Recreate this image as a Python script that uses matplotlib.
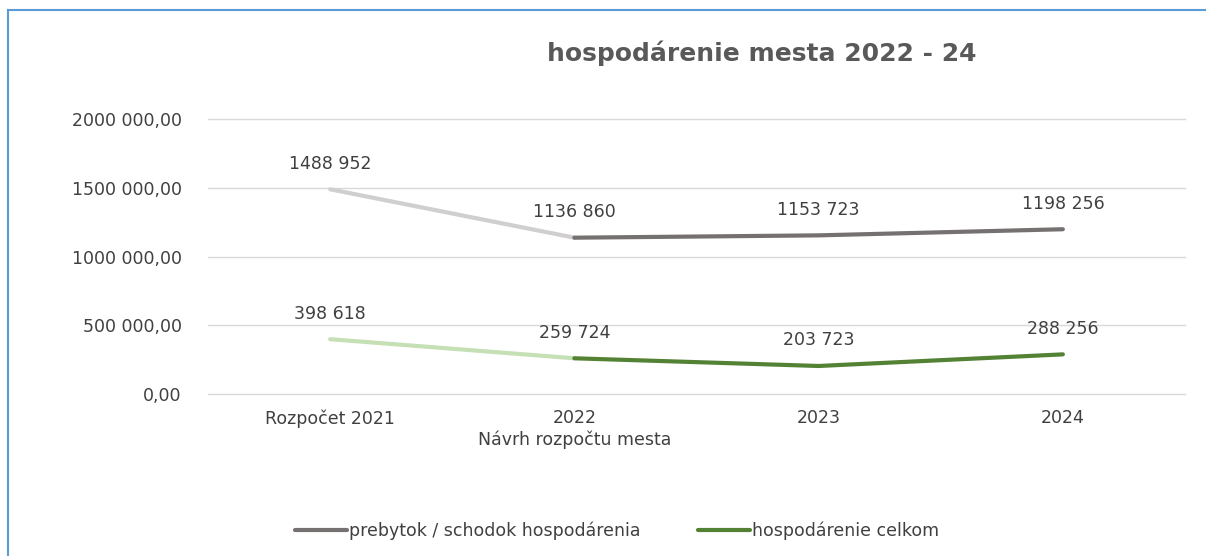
import matplotlib.pyplot as plt
from matplotlib.patches import Rectangle
from matplotlib.lines import Line2D
from matplotlib.ticker import FuncFormatter

plt.rcParams['font.family'] = ['DejaVu Sans']

categories = ['Rozpočet 2021', '2022\nNávrh rozpočtu mesta', '2023', '2024']
prebytok = [1488952, 1136860, 1153723, 1198256]
celkom = [398618, 259724, 203723, 288256]
label_names = ['prebytok / schodok hospodárenia', 'hospodárenie celkom']

gray_dark, gray_light = '#767171', '#d0cece'
green_dark, green_light = '#548235', '#c5e0b4'
text_col = '#404040'


def fmt_num(v):
    v = int(round(v))
    if v < 1000:
        return str(v)
    return f'{v // 1000} {v % 1000:03d}'


def fmt_axis(v, pos):
    return fmt_num(v) + ',00'


fig = plt.figure(figsize=(12.06, 5.56), dpi=100)
ax = fig.add_axes([208/1206, 1 - 394/556, 977/1206, 275/556])

x = list(range(len(categories)))
for vals, dark, light in [(prebytok, gray_dark, gray_light), (celkom, green_dark, green_light)]:
    ax.plot(x[:2], vals[:2], color=light, lw=3, solid_capstyle='round', zorder=3)
    ax.plot(x[1:], vals[1:], color=dark, lw=3, solid_capstyle='round', zorder=4)
    for xi, v in zip(x, vals):
        ax.annotate(fmt_num(v), (xi, v), xytext=(0, 12),
                    textcoords='offset points', ha='center', va='bottom',
                    fontsize=12.5, color=text_col)

ax.set_xlim(-0.5, 3.5)
ax.set_ylim(0, 2000000)
ax.set_yticks([0, 500000, 1000000, 1500000, 2000000])
ax.yaxis.set_major_formatter(FuncFormatter(fmt_axis))
ax.set_xticks(x)
ax.set_xticklabels(categories, linespacing=1.2)
ax.tick_params(length=0, labelsize=12.5, labelcolor=text_col, pad=11)
ax.tick_params(axis='y', pad=19)
ax.grid(axis='y', color='#d9d9d9', lw=1)
for gl in ax.get_ygridlines():
    gl.set_clip_on(False)
ax.set_axisbelow(True)
for s in ax.spines.values():
    s.set_visible(False)

fig.text(762/1206, 1 - 53/556, 'hospodárenie mesta 2022 - 24', ha='center', va='center',
         fontsize=18, fontweight='bold', color='#595959')

handles = [Line2D([], [], color=gray_dark, lw=3, solid_capstyle='round'),
           Line2D([], [], color=green_dark, lw=3, solid_capstyle='round')]
fig.legend(handles, label_names, loc='center', bbox_to_anchor=(617/1206, 1 - 531/556),
           ncol=2, frameon=False, fontsize=12.5, handlelength=3.0, handletextpad=0.1,
           columnspacing=3.3, labelcolor=text_col)

fig.patches.append(Rectangle((8/1206, -0.1), 1.2, 1.1 - 10/556, transform=fig.transFigure,
                             fill=False, edgecolor='#5b9bd5', lw=1.5))

fig.savefig('out.png', dpi=100)
